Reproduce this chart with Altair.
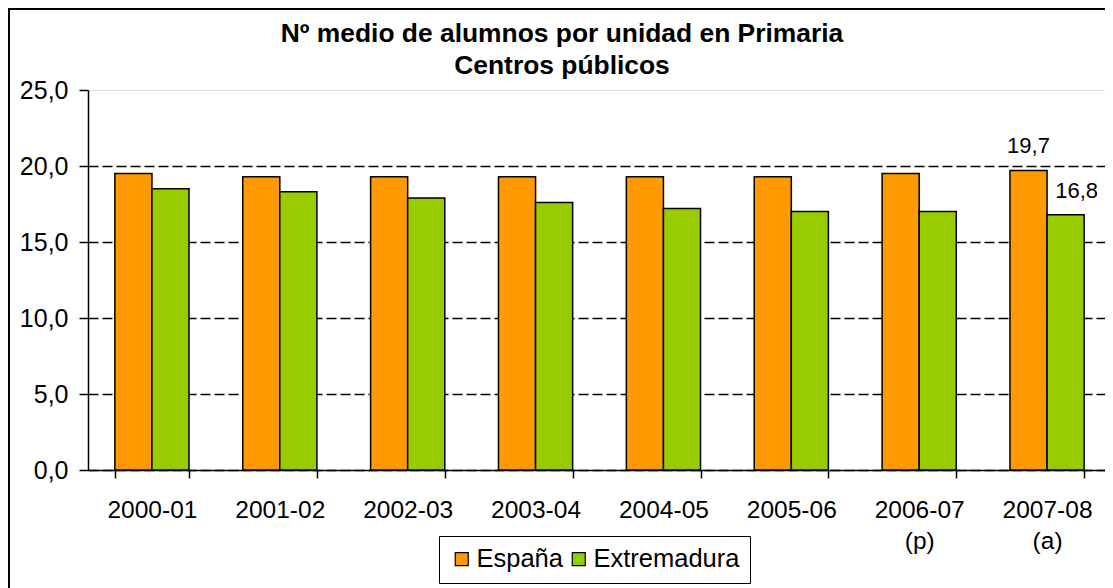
import altair as alt
import pandas as pd

years = ["2000-01", "2001-02", "2002-03", "2003-04", "2004-05", "2005-06", "2006-07 (p)", "2007-08 (a)"]
espana = [19.5, 19.3, 19.3, 19.3, 19.3, 19.3, 19.5, 19.7]
extremadura = [18.5, 18.3, 17.9, 17.6, 17.2, 17.0, 17.0, 16.8]
series = ["España", "Extremadura"]
colors = ["#FF9900", "#99CC00"]
y_ticks = [0, 5, 10, 15, 20, 25]
labelled_year = "2007-08 (a)"
title_lines = ["Nº medio de alumnos por unidad en Primaria", "Centros públicos"]

rows = []
for i, yr in enumerate(years):
    rows.append({"year": yr, "serie": series[0], "value": espana[i]})
    rows.append({"year": yr, "serie": series[1], "value": extremadura[i]})
df = pd.DataFrame(rows)

FONT = "Liberation Sans"
fmt = "replace(format(datum.value, '.1f'), '.', ',')"

x = alt.X(
    "year:N", sort=years, title=None,
    scale=alt.Scale(paddingInner=0.42, paddingOuter=0.21, round=False, range=[0, 1023]),
    axis=alt.Axis(
        labelAngle=0, tickBand="extent", labelExpr="split(datum.label, ' ')",
        labelFontSize=24.5, labelPadding=20, tickSize=8, labelLineHeight=31,
        domainColor="black", tickColor="black", labelColor="black",
        domainWidth=1.5, tickWidth=1.5, labelFont=FONT,
    ),
)
y = alt.Y(
    "value:Q", title=None,
    scale=alt.Scale(domain=[0, 25], nice=False),
    axis=alt.Axis(
        values=y_ticks, labelExpr=fmt, grid=True, gridColor="black",
        gridDash=[10, 4], gridWidth=1.6,
        gridOpacity={"condition": {"test": "datum.value >= 25", "value": 0}, "value": 1},
        labelFontSize=25, labelPadding=11, tickSize=9, tickColor="black",
        domainColor="black", domainWidth=1.5, tickWidth=1.5, labelColor="black",
        labelFont=FONT,
    ),
)
xoff = alt.XOffset("serie:N", sort=series, scale=alt.Scale(paddingInner=0, paddingOuter=0))
color = alt.Color(
    "serie:N", sort=series, scale=alt.Scale(domain=series, range=colors),
    legend=alt.Legend(
        title=None, orient="none", legendX=351, legendY=446, direction="horizontal",
        strokeColor="black", padding=10, fillColor="white",
        symbolType="square", symbolSize=169, symbolStrokeColor="black",
        symbolStrokeWidth=1.2, symbolOpacity=1,
        labelFontSize=25.5, labelFont=FONT, labelColor="black", labelOffset=2,
        columnPadding=3,
    ),
)

base = alt.Chart(df)
bars = base.mark_bar(stroke="black", strokeWidth=1.5, opacity=1).encode(
    x=x, y=y, xOffset=xoff, color=color
)
lab_es = base.transform_filter(
    f"datum.year == '{labelled_year}' && datum.serie == '{series[0]}'"
).transform_calculate(lbl=fmt).mark_text(
    font=FONT, fontSize=22, color="black", baseline="alphabetic", dy=-17.5
).encode(x=x, xOffset=xoff, y=y, text="lbl:N")
lab_ex = base.transform_filter(
    f"datum.year == '{labelled_year}' && datum.serie == '{series[1]}'"
).transform_calculate(lbl=fmt).mark_text(
    font=FONT, fontSize=22, color="black", baseline="alphabetic", dy=-17, dx=11
).encode(x=x, xOffset=xoff, y=y, text="lbl:N")

frame = alt.Chart(pd.DataFrame({"k": [0]})).mark_rect(
    fill="transparent", stroke="black", strokeWidth=2
).encode(
    x=alt.value(-79), x2=alt.value(1300), y=alt.value(-81), y2=alt.value(800)
)

chart = alt.layer(bars, lab_es, lab_ex, frame).properties(
    width=1017, height=380,
    title=alt.TitleParams(
        text=title_lines, fontSize=26.4, fontWeight="bold", font=FONT, color="black",
        anchor="middle", frame="group", baseline="alphabetic", dx=-34.5, dy=92,
        lineHeight=32, offset=0,
    ),
    autosize=alt.AutoSizeParams(type="none"),
    padding={"left": 80, "top": 82, "right": 0, "bottom": 118},
).configure_view(
    fill="#C0C0C0", stroke="#808080", strokeDash=[4, 2], strokeWidth=1.5
).configure(background="white")

chart.save("out.html", embed_options={"renderer": "svg", "actions": False})
